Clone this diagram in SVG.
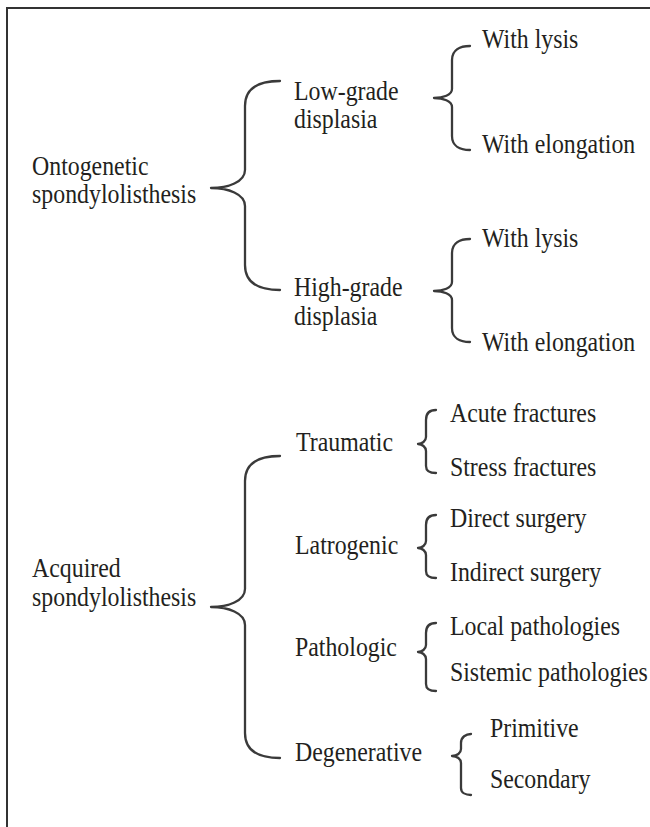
<svg xmlns="http://www.w3.org/2000/svg" width="650" height="827" viewBox="0 0 650 827">
<style>
.t{font-family:'Liberation Serif','Times New Roman',serif;font-size:26.5px;fill:#231f20}
.br{fill:none;stroke:#3a3a3a;stroke-width:2.3;stroke-linecap:round;stroke-linejoin:round}
.frame{fill:none;stroke:#333;stroke-width:2}
</style>
<rect width="650" height="827" fill="#fff"/>
<path class="frame" d="M7,827 L7,8 L650,8"/>
<g id="connectors">
<path class="br" d="M280,81 C258,81 245,88 245,106 L245,170 C245,182 228,188 211,188 C228,188 245,194 245,206 L245,265 C245,283 258,290 280,290"/>
<path class="br" d="M470,46 C460,46 452,50 452,60 L452,89 C452,95 443,98 434,98 C443,98 452,101 452,107 L452,136 C452,146 460,150 470,150"/>
<path class="br" d="M470,239 C460,239 452,243 452,253 L452,282 C452,288 443,291 434,291 C443,291 452,294 452,300 L452,328 C452,338 460,342 470,342"/>
<path class="br" d="M280,456 C258,456 245,463 245,481 L245,589 C245,601 228,607 211,607 C228,607 245,613 245,625 L245,733 C245,751 258,758 280,758"/>
<path class="br" d="M436,410 C430,410 426,413 426,420 L426,437 C426,441 422,444 418,444 C422,444 426,447 426,451 L426,466 C426,471 430,473 436,473"/>
<path class="br" d="M436,515 C430,515 426,518 426,525 L426,541 C426,545 422,548 418,548 C422,548 426,551 426,555 L426,571 C426,576 430,578 436,578"/>
<path class="br" d="M436,623 C430,623 426,626 426,633 L426,645 C426,649 422,652 418,652 C422,652 426,655 426,659 L426,684 C426,689 430,691 436,691"/>
<path class="br" d="M471,734 C466,734 461,737 461,743 L461,749 C461,753 457,756 452,756 C457,756 461,759 461,763 L461,788 C461,793 466,795 471,795"/>
</g>
<g class="t" transform="scale(0.9,1)">
<g id="n-onto"><text x="35.6" y="175">Ontogenetic</text><text x="35.6" y="203">spondylolisthesis</text></g>
<g id="n-low"><text x="326.7" y="100">Low-grade</text><text x="326.7" y="128">displasia</text></g>
<g id="n-low-lysis"><text x="535.6" y="48">With lysis</text></g>
<g id="n-low-elong"><text x="535.6" y="153">With elongation</text></g>
<g id="n-high"><text x="326.7" y="296">High-grade</text><text x="326.7" y="325">displasia</text></g>
<g id="n-high-lysis"><text x="535.6" y="247">With lysis</text></g>
<g id="n-high-elong"><text x="535.6" y="351">With elongation</text></g>
<g id="n-acq"><text x="35.6" y="577">Acquired</text><text x="35.6" y="606">spondylolisthesis</text></g>
<g id="n-trau"><text x="328.9" y="451">Traumatic</text></g>
<g id="n-acute"><text x="500" y="422">Acute fractures</text></g>
<g id="n-stress"><text x="500" y="476">Stress fractures</text></g>
<g id="n-latro"><text x="327.8" y="554">Latrogenic</text></g>
<g id="n-direct"><text x="500" y="527">Direct surgery</text></g>
<g id="n-indirect"><text x="500" y="581">Indirect surgery</text></g>
<g id="n-patho"><text x="327.8" y="656">Pathologic</text></g>
<g id="n-local"><text x="500" y="635">Local pathologies</text></g>
<g id="n-sist"><text x="500" y="681">Sistemic pathologies</text></g>
<g id="n-degen"><text x="327.8" y="761">Degenerative</text></g>
<g id="n-prim"><text x="544.4" y="737">Primitive</text></g>
<g id="n-sec"><text x="544.4" y="788">Secondary</text></g>
</g>
</svg>
